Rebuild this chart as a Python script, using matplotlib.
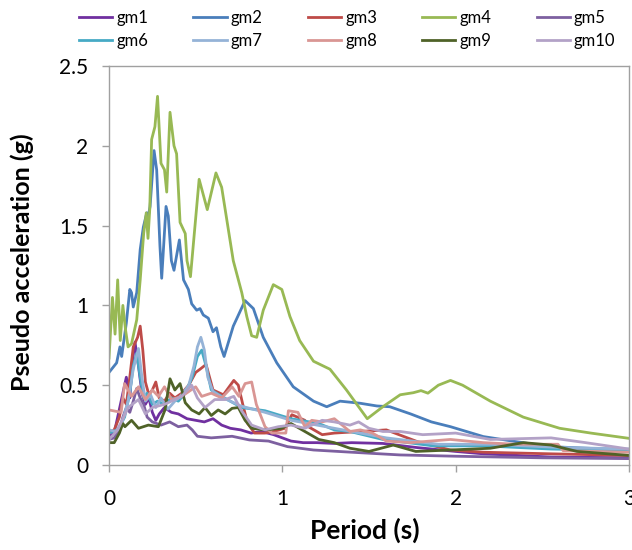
import matplotlib.pyplot as plt

plt.rcParams["font.family"] = ["Lato", "DejaVu Sans"]

# ---- data (period in s, Sa in g) ----
t_gm1 = [0, 0.03, 0.06, 0.08, 0.10, 0.12, 0.135, 0.15, 0.17, 0.19, 0.21, 0.23, 0.25, 0.27, 0.29,
         0.32, 0.36, 0.40, 0.45, 0.50, 0.55, 0.60, 0.65, 0.70, 0.76, 0.82, 0.88, 0.95, 1.0, 1.05,
         1.12, 1.2, 1.3, 1.4, 1.58, 1.77, 2.0, 2.16, 2.55, 3.0]
sa_gm1 = [0.18, 0.20, 0.35, 0.45, 0.55, 0.42, 0.65, 0.77, 0.62, 0.45, 0.38, 0.42, 0.33, 0.28, 0.32,
          0.36, 0.33, 0.32, 0.29, 0.28, 0.27, 0.29, 0.25, 0.23, 0.22, 0.20, 0.21, 0.19, 0.17, 0.15,
          0.14, 0.14, 0.135, 0.14, 0.135, 0.11, 0.085, 0.07, 0.05, 0.045]

t_gm2 = [0, 0.044, 0.063, 0.073, 0.10, 0.12, 0.13, 0.14, 0.16, 0.18, 0.198, 0.218, 0.227, 0.237,
         0.26, 0.275, 0.285, 0.294, 0.304, 0.329, 0.342, 0.36, 0.375, 0.406, 0.43, 0.458, 0.477,
         0.506, 0.525, 0.544, 0.573, 0.60, 0.62, 0.645, 0.664, 0.717, 0.785, 0.833, 0.89, 0.968,
         1.063, 1.18, 1.256, 1.333, 1.448, 1.545, 1.62, 1.74, 1.86, 1.97, 2.16, 2.35, 2.545, 3.0]
sa_gm2 = [0.58, 0.64, 0.74, 0.68, 0.89, 1.10, 1.08, 0.99, 1.08, 1.35, 1.49, 1.58, 1.56, 1.62,
          1.97, 1.85, 1.60, 1.37, 1.17, 1.62, 1.56, 1.28, 1.22, 1.41, 1.16, 1.10, 1.01,
          0.97, 0.98, 0.94, 0.92, 0.835, 0.86, 0.74, 0.68, 0.87, 1.03, 0.98, 0.80, 0.64,
          0.49, 0.40, 0.365, 0.40, 0.387, 0.37, 0.365, 0.32, 0.27, 0.24, 0.178, 0.146, 0.115, 0.094]

t_gm3 = [0, 0.03, 0.06, 0.08, 0.10, 0.12, 0.14, 0.165, 0.18, 0.195, 0.21, 0.23, 0.25, 0.27, 0.29,
         0.32, 0.35, 0.38, 0.42, 0.46, 0.50, 0.525, 0.56, 0.60, 0.66, 0.72, 0.746, 0.775, 0.80,
         0.84, 0.90, 0.95, 1.015, 1.055, 1.13, 1.15, 1.23, 1.30, 1.45, 1.6, 1.78, 1.97, 2.16,
         2.55, 3.0]
sa_gm3 = [0.20, 0.22, 0.30, 0.42, 0.38, 0.55, 0.74, 0.80, 0.87, 0.72, 0.52, 0.44, 0.47, 0.52, 0.42,
          0.40, 0.45, 0.42, 0.45, 0.50, 0.58, 0.60, 0.63, 0.47, 0.44, 0.53, 0.50, 0.365, 0.26,
          0.20, 0.20, 0.21, 0.23, 0.315, 0.28, 0.24, 0.19, 0.20, 0.21, 0.22, 0.146, 0.094, 0.08,
          0.07, 0.06]

t_gm4 = [0, 0.02, 0.035, 0.05, 0.065, 0.08, 0.095, 0.11, 0.13, 0.16, 0.18, 0.2, 0.215, 0.225,
         0.235, 0.246, 0.265, 0.28, 0.30, 0.32, 0.333, 0.352, 0.375, 0.39, 0.41, 0.44, 0.45, 0.47,
         0.52, 0.567, 0.617, 0.65, 0.717, 0.766, 0.795, 0.823, 0.852, 0.89, 0.948, 0.997, 1.044,
         1.10, 1.18, 1.275, 1.37, 1.49, 1.58, 1.68, 1.756, 1.80, 1.84, 1.90, 1.97, 2.04, 2.20,
         2.39, 2.60, 2.78, 3.0]
sa_gm4 = [0.67, 1.05, 0.82, 1.16, 0.78, 1.0, 0.85, 0.74, 0.76, 0.91, 1.16, 1.45, 1.58, 1.42,
          1.6, 2.04, 2.12, 2.31, 1.89, 1.85, 1.71, 2.21, 2.0, 1.95, 1.52, 1.45, 1.28, 1.18,
          1.79, 1.60, 1.83, 1.74, 1.28, 1.08, 0.93, 0.81, 0.80, 0.97, 1.13, 1.10, 0.93,
          0.78, 0.65, 0.60, 0.47, 0.29, 0.365, 0.44, 0.453, 0.466, 0.45, 0.50, 0.53, 0.50, 0.40,
          0.30, 0.23, 0.20, 0.167]

t_gm5 = [0, 0.03, 0.06, 0.08, 0.10, 0.12, 0.14, 0.16, 0.18, 0.20, 0.22, 0.25, 0.30, 0.35, 0.40,
         0.45, 0.48, 0.51, 0.59, 0.71, 0.81, 0.92, 1.03, 1.18, 1.4, 1.68, 2.0, 2.5, 3.0]
sa_gm5 = [0.16, 0.17, 0.22, 0.30, 0.36, 0.33, 0.40, 0.48, 0.42, 0.38, 0.30, 0.27, 0.25, 0.27, 0.24,
          0.25, 0.22, 0.18, 0.17, 0.18, 0.157, 0.15, 0.115, 0.094, 0.08, 0.063, 0.055, 0.045, 0.04]

t_gm6 = [0, 0.05, 0.09, 0.12, 0.14, 0.16, 0.18, 0.2, 0.22, 0.25, 0.28, 0.32, 0.36, 0.40, 0.44,
         0.48, 0.51, 0.535, 0.56, 0.59, 0.65, 0.765, 0.90, 1.05, 1.21, 1.30, 1.39, 1.58, 1.87,
         2.16, 2.55, 3.0]
sa_gm6 = [0.20, 0.22, 0.30, 0.45, 0.62, 0.70, 0.55, 0.42, 0.45, 0.38, 0.40, 0.38, 0.42, 0.40, 0.45,
          0.55, 0.68, 0.72, 0.62, 0.47, 0.43, 0.36, 0.34, 0.29, 0.26, 0.22, 0.21, 0.16, 0.12,
          0.12, 0.10, 0.09]

t_gm7 = [0, 0.04, 0.08, 0.11, 0.14, 0.17, 0.19, 0.21, 0.24, 0.27, 0.30, 0.34, 0.38, 0.42, 0.46,
         0.49, 0.51, 0.53, 0.55, 0.57, 0.60, 0.66, 0.76, 0.90, 1.05, 1.2, 1.4, 1.6, 1.9, 2.2,
         2.6, 3.0]
sa_gm7 = [0.22, 0.21, 0.28, 0.40, 0.60, 0.73, 0.55, 0.40, 0.44, 0.36, 0.42, 0.35, 0.40, 0.44, 0.50,
          0.62, 0.74, 0.80, 0.72, 0.55, 0.46, 0.42, 0.37, 0.33, 0.28, 0.25, 0.21, 0.17, 0.13, 0.13,
          0.11, 0.10]

t_gm8 = [0, 0.07, 0.09, 0.13, 0.17, 0.21, 0.25, 0.285, 0.32, 0.36, 0.42, 0.50, 0.535, 0.59, 0.65,
         0.71, 0.75, 0.785, 0.823, 0.85, 0.90, 0.94, 1.02, 1.035, 1.09, 1.13, 1.17, 1.23, 1.30,
         1.39, 1.45, 1.52, 1.6, 1.74, 1.97, 2.16, 2.35, 2.59, 2.62, 3.0]
sa_gm8 = [0.345, 0.33, 0.51, 0.43, 0.49, 0.41, 0.47, 0.43, 0.49, 0.41, 0.43, 0.49, 0.43, 0.45, 0.42,
          0.49, 0.43, 0.51, 0.52, 0.38, 0.24, 0.20, 0.20, 0.34, 0.33, 0.24, 0.28, 0.27, 0.29,
          0.21, 0.22, 0.20, 0.15, 0.14, 0.16, 0.14, 0.13, 0.13, 0.09, 0.08]

t_gm9 = [0, 0.03, 0.06, 0.08, 0.092, 0.13, 0.17, 0.227, 0.285, 0.323, 0.352, 0.38, 0.41, 0.44,
         0.477, 0.52, 0.554, 0.59, 0.63, 0.67, 0.71, 0.746, 0.785, 0.823, 0.90, 0.996, 1.05,
         1.13, 1.21, 1.30, 1.39, 1.5, 1.64, 1.77, 1.97, 2.2, 2.39, 2.55, 2.7, 3.0]
sa_gm9 = [0.14, 0.14, 0.20, 0.26, 0.24, 0.28, 0.23, 0.25, 0.24, 0.345, 0.54, 0.47, 0.51, 0.39,
          0.345, 0.32, 0.36, 0.31, 0.345, 0.32, 0.355, 0.36, 0.28, 0.23, 0.22, 0.23, 0.26,
          0.21, 0.16, 0.14, 0.105, 0.085, 0.125, 0.085, 0.094, 0.105, 0.14, 0.125, 0.085, 0.06]

t_gm10 = [0, 0.05, 0.11, 0.17, 0.21, 0.25, 0.32, 0.42, 0.477, 0.51, 0.554, 0.61, 0.67, 0.72,
          0.765, 0.823, 0.90, 0.977, 1.05, 1.13, 1.23, 1.30, 1.39, 1.44, 1.50, 1.58, 1.68, 1.81,
          2.0, 2.2, 2.55, 2.75, 3.0]
sa_gm10 = [0.16, 0.22, 0.36, 0.41, 0.32, 0.36, 0.38, 0.43, 0.50, 0.42, 0.36, 0.41, 0.41, 0.43,
           0.34, 0.25, 0.22, 0.24, 0.25, 0.23, 0.28, 0.27, 0.25, 0.27, 0.23, 0.21, 0.21, 0.19,
           0.20, 0.16, 0.17, 0.14, 0.10]

names = ["gm1", "gm2", "gm3", "gm4", "gm5", "gm6", "gm7", "gm8", "gm9", "gm10"]
periods = [t_gm1, t_gm2, t_gm3, t_gm4, t_gm5, t_gm6, t_gm7, t_gm8, t_gm9, t_gm10]
accels = [sa_gm1, sa_gm2, sa_gm3, sa_gm4, sa_gm5, sa_gm6, sa_gm7, sa_gm8, sa_gm9, sa_gm10]
colors = ["#7030A0", "#4A7EBB", "#BE4B48", "#98B954", "#7D60A0",
          "#46AAC5", "#95B3D7", "#D99694", "#4F6228", "#B3A2C7"]

fig = plt.figure(figsize=(6.32, 5.5), dpi=100)
ax = fig.add_axes([109 / 632, 85 / 550, 520 / 632, 399 / 550])

handles = []
for t, sa, c, n in zip(periods, accels, colors, names):
    h, = ax.plot(t, sa, color=c, linewidth=2.0, label=n, solid_joinstyle="round")
    handles.append(h)

ax.set_xlim(0, 3)
ax.set_ylim(0, 2.5)
ax.set_xticks([0, 1, 2, 3])
ax.set_xticklabels(["0", "1", "2", "3"])
ax.set_yticks([0, 0.5, 1, 1.5, 2, 2.5])
ax.set_yticklabels(["0", "0.5", "1", "1.5", "2", "2.5"])
for s in ax.spines.values():
    s.set_color("#A0A0A0")
    s.set_linewidth(1.0)
ax.tick_params(direction="out", length=5, width=1.0, color="#A0A0A0",
               labelsize=15, labelcolor="black")
ax.tick_params(axis="y", pad=10)
ax.tick_params(axis="x", pad=12)

fig.text(22 / 632, 1 - 262 / 550, "Pseudo acceleration (g)", rotation=90,
         ha="center", va="center", fontsize=18, fontweight="bold")
fig.text(365 / 632, 1 - 530 / 550, "Period (s)", ha="center", va="center",
         fontsize=19, fontweight="bold")

# legend filled row-wise: reorder for matplotlib's column-wise fill
order = [0, 5, 1, 6, 2, 7, 3, 8, 4, 9]
fig.legend([handles[i] for i in order], [names[i] for i in order], ncol=5,
           loc="upper left", bbox_to_anchor=(79 / 632, 1 - 10 / 550), frameon=False,
           fontsize=12, handlelength=2.0, handletextpad=0.25, columnspacing=2.7,
           labelspacing=0.4, borderpad=0, borderaxespad=0)

fig.savefig("out.png", dpi=100)
